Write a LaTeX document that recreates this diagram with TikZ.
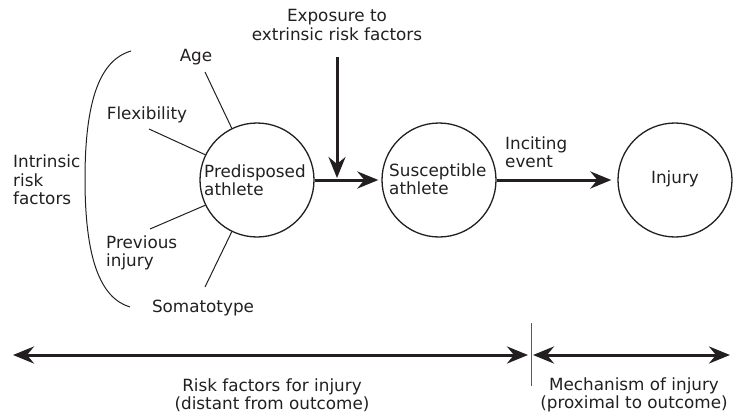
\documentclass[tikz,border=0pt]{standalone}
\usepackage{fontspec}
\setmainfont{DejaVu Sans}
\usetikzlibrary{arrows.meta}
\definecolor{ink}{HTML}{231F20}
\begin{document}
\begin{tikzpicture}[x=1pt,y=-1pt,
  every node/.style={inner sep=0pt, text=ink, font=\fontsize{16.8}{18.5}\selectfont},
  circ/.style={draw=ink, circle, line width=1.3pt, minimum size=114pt},
  spoke/.style={draw=ink, line width=1pt},
  bigarrow/.style={draw=ink, line width=3pt, -{Stealth[length=21pt,width=17pt,inset=7pt]}},
  dblarrow/.style={draw=ink, line width=3pt, {Stealth[length=21pt,width=17pt,inset=7pt]}-{Stealth[length=21pt,width=17pt,inset=7pt]}},
  lbl/.style={align=left, anchor=west},
  clbl/.style={align=center}
]
\useasboundingbox (0,0) rectangle (738,417);
% circles
\node[circ] (P) at (257,180) {};
\node[circ] (S) at (439,180) {};
\node[circ] (I) at (675,180) {};
% circle texts
\node[lbl] (Pt) at (204,180) {Predisposed\\athlete};
\node[lbl] (St) at (389,179) {Susceptible\\athlete};
\node (It) at (675,179) {Injury};
% factor labels
\node (age) at (196,57) {Age};
\node (flex) at (147,115) {Flexibility};
\node[lbl] (prev) at (106,253) {Previous\\injury};
\node (som) at (203,308) {Somatotype};
\node[lbl] (intr) at (13,180) {Intrinsic\\risk\\factors};
% spoke start points
\coordinate (a0) at (205,72);
\coordinate (f0) at (149,129);
\coordinate (p0) at (150,229);
\coordinate (s0) at (205,287);
\draw[spoke] (a0) -- (P.116);
\draw[spoke] (f0) -- (P.154);
\draw[spoke] (p0) -- (P.206);
\draw[spoke] (s0) -- (P.244);
% bracket
\coordinate (bt) at (131,51);
\coordinate (bm) at (85,179);
\coordinate (bb) at (130,307);
\draw[ink, line width=1pt] (bt) .. controls (100,60) and (85,100) .. (bm) .. controls (85,258) and (100,298) .. (bb);
% exposure
\node[clbl] (exp) at (337,25) {Exposure to\\extrinsic risk factors};
\coordinate (e0) at (337,57);
\coordinate (e1) at (337,178);
\draw[bigarrow] (e0) -- (e1);
% main arrows
\draw[bigarrow, shorten >=3pt] (P.east) -- (S.west);
\node[lbl] (inc) at (505,152) {Inciting\\event};
\draw[bigarrow, shorten >=6pt] (S.east) -- (I.west);
% bottom
\coordinate (l0) at (13,355);
\coordinate (l1) at (528,355);
\coordinate (r0) at (533,355);
\coordinate (r1) at (730,355);
\coordinate (d0) at (531,323);
\coordinate (d1) at (531,386);
\draw[dblarrow] (l0) -- (l1);
\draw[dblarrow] (r0) -- (r1);
\draw[gray!70!black, line width=0.8pt] (d0) -- (d1);
\node[clbl] (rf) at (272,395) {Risk factors for injury\\(distant from outcome)};
\node[clbl] (mech) at (634,395) {Mechanism of injury\\(proximal to outcome)};
\end{tikzpicture}
\end{document}
